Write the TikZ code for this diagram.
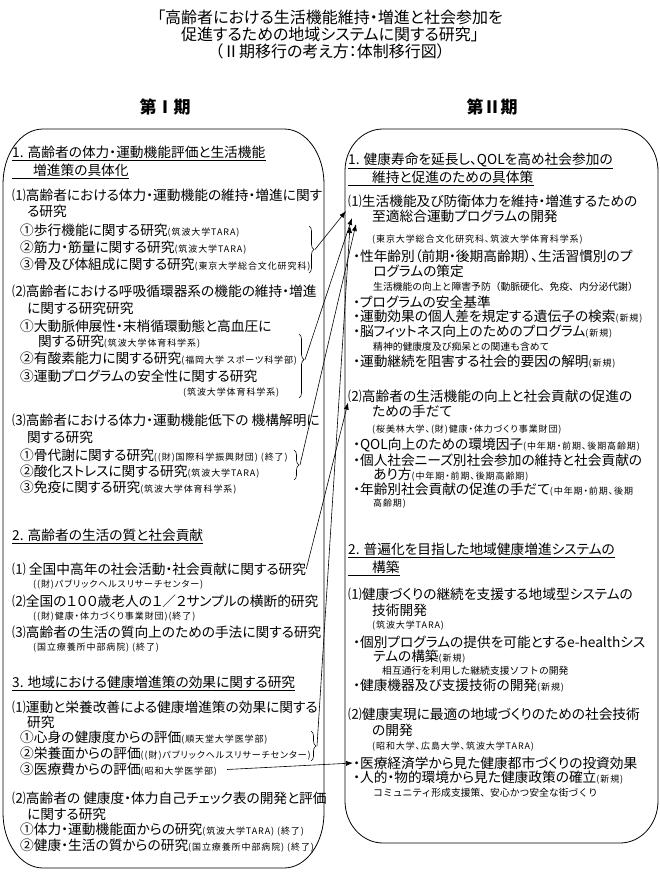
\documentclass[tikz,border=0pt]{standalone}
\usepackage{fontspec}
\setmainfont{Noto Sans CJK JP}[RawFeature=+palt]
\newfontfamily\affilfont{Noto Sans CJK JP}[RawFeature=+palt, LetterSpace=10]
\newfontfamily\subnotefont{Noto Sans CJK JP}
\usepackage{tikz}
\usetikzlibrary{arrows.meta, calc, decorations.pathreplacing}

\newcommand{\affil}[1]{{\affilfont\fontsize{9}{10}\selectfont #1}}
\newcommand{\subnote}[1]{{\subnotefont\fontsize{9.8}{11}\selectfont #1}}

\begin{document}
\begin{tikzpicture}[x=1pt, y=1pt,
    txt/.style={anchor=west, inner sep=0pt, font=\fontsize{13.7}{15}\selectfont},
    ttl/.style={inner sep=0pt, font=\fontsize{16}{18}\selectfont},
    per/.style={inner sep=0pt, font=\fontsize{17}{19}\selectfont\bfseries},
    frame/.style={draw=black, line width=0.8pt},
    uline/.style={draw=black, line width=0.6pt},
    brc/.style={draw=black, line width=0.6pt, decorate, decoration={brace, amplitude=5pt}},
    conn/.style={draw=black, line width=0.6pt, -{Latex[length=7pt, width=5pt]}}
]
    \fill[white] (0,0) rectangle (660,-882);

    % Title
    \node (title1) [ttl] at (330,-17) {「高齢者における生活機能維持・増進と社会参加を};
    \node (title2) [ttl] at (330,-34) {促進するための地域システムに関する研究」};
    \node (title3) [ttl] at (330,-51) {（Ⅱ期移行の考え方：体制移行図）};
    \node (per1) [per] at (165,-107) {第Ⅰ期};
    \node (per2) [per] at (492,-107) {第Ⅱ期};

    % Frames
    \draw[frame] (43,-129) -- (284,-129) arc[start angle=90, end angle=0, x radius=40, y radius=55]
        -- (324,-813) arc[start angle=0, end angle=-90, x radius=40, y radius=55]
        -- (43,-868) arc[start angle=270, end angle=180, x radius=40, y radius=55]
        -- (3,-184) arc[start angle=180, end angle=90, x radius=40, y radius=55] -- cycle;
    \draw[frame] (383,-129) -- (620,-129) arc[start angle=90, end angle=0, x radius=38, y radius=42]
        -- (658,-801) arc[start angle=0, end angle=-90, x radius=38, y radius=42]
        -- (383,-843) arc[start angle=270, end angle=180, x radius=38, y radius=42]
        -- (345,-171) arc[start angle=180, end angle=90, x radius=38, y radius=42] -- cycle;

    % Left column
    \node (l1a) [txt] at (12,-152) {1. 高齢者の体力・運動機能評価と生活機能};
    \node (l1b) [txt] at (33,-170) {増進策の具体化};
    \node (l11a) [txt] at (12,-195) {⑴高齢者における体力・運動機能の維持・増進に関す};
    \node (l11b) [txt] at (27,-211) {る研究};
    \node (l11c) [txt] at (20,-231) {①歩行機能に関する研究\affil{(筑波大学TARA)}};
    \node (l11d) [txt] at (20,-248) {②筋力・筋量に関する研究\affil{(筑波大学TARA)}};
    \node (l11e) [txt] at (20,-265) {③骨及び体組成に関する研究\affil{(東京大学総合文化研究科)}};
    \node (l12a) [txt] at (12,-291) {⑵高齢者における呼吸循環器系の機能の維持・増進};
    \node (l12b) [txt] at (27,-308) {に関する研究研究};
    \node (l12c) [txt] at (20,-326) {①大動脈伸展性・末梢循環動態と高血圧に};
    \node (l12d) [txt] at (38,-342) {関する研究\affil{(筑波大学体育科学系)}};
    \node (l12e) [txt] at (20,-359) {②有酸素能力に関する研究\affil{(福岡大学 スポーツ科学部)}};
    \node (l12f) [txt] at (20,-376) {③運動プログラムの安全性に関する研究};
    \node (l12g) [txt] at (183,-393) {\affil{(筑波大学体育科学系)}};
    \node (l13a) [txt] at (12,-420) {⑶高齢者における体力・運動機能低下の 機構解明に};
    \node (l13b) [txt] at (27,-437) {関する研究};
    \node (l13c) [txt] at (20,-456) {①骨代謝に関する研究\affil{((財)国際科学振興財団) (終了)}};
    \node (l13d) [txt] at (20,-472) {②酸化ストレスに関する研究\affil{(筑波大学TARA)}};
    \node (l13e) [txt] at (20,-488) {③免疫に関する研究\affil{(筑波大学体育科学系)}};
    \node (l2) [txt] at (12,-535) {2. 高齢者の生活の質と社会貢献};
    \node (l21a) [txt] at (12,-569) {⑴ 全国中高年の社会活動・社会貢献に関する研究};
    \node (l21b) [txt] at (33,-585) {\affil{((財)パブリックヘルスリサーチセンター)}};
    \node (l22a) [txt] at (12,-601) {⑵全国の１００歳老人の１／２サンプルの横断的研究};
    \node (l22b) [txt] at (33,-617) {\affil{((財)健康・体力づくり事業財団)(終了)}};
    \node (l23a) [txt] at (12,-632) {⑶高齢者の生活の質向上のための手法に関する研究};
    \node (l23b) [txt] at (33,-648) {\affil{(国立療養所中部病院) (終了)}};
    \node (l3) [txt] at (12,-682) {3. 地域における健康増進策の効果に関する研究};
    \node (l31a) [txt] at (12,-707) {⑴運動と栄養改善による健康増進策の効果に関する};
    \node (l31b) [txt] at (27,-722) {研究};
    \node (l31c) [txt] at (20,-738) {①心身の健康度からの評価\affil{(順天堂大学医学部)}};
    \node (l31d) [txt] at (20,-754) {②栄養面からの評価\affil{((財)パブリックヘルスリサーチセンター)}};
    \node (l31e) [txt] at (20,-770) {③医療費からの評価\affil{(昭和大学医学部)}};
    \node (l32a) [txt] at (12,-798) {⑵高齢者の 健康度・体力自己チェック表の開発と評価};
    \node (l32b) [txt] at (27,-814) {に関する研究};
    \node (l32c) [txt] at (20,-830) {①体力・運動機能面からの研究\affil{(筑波大学TARA) (終了)}};
    \node (l32d) [txt] at (20,-846) {②健康・生活の質からの研究\affil{(国立療養所中部病院) (終了)}};

    % Right column
    \node (r1a) [txt] at (348,-160) {1. 健康寿命を延長し、QOLを高め社会参加の};
    \node (r1b) [txt] at (372,-177) {維持と促進のための具体策};
    \node (r11a) [txt] at (348,-201) {⑴生活機能及び防衛体力を維持・増進するための};
    \node (r11b) [txt] at (372,-216) {至適総合運動プログラムの開発};
    \node (r11c) [txt] at (372,-240) {\affil{(東京大学総合文化研究科、筑波大学体育科学系)}};
    \node (r11d) [txt] at (353,-256) {・性年齢別（前期・後期高齢期）、生活習慣別のプ};
    \node (r11e) [txt] at (373,-271) {ログラムの策定};
    \node (r11f) [txt] at (373,-287) {\subnote{生活機能の向上と障害予防（動脈硬化、免疫、内分泌代謝）}};
    \node (r11g) [txt] at (353,-302) {・プログラムの安全基準};
    \node (r11h) [txt] at (353,-317) {・運動効果の個人差を規定する遺伝子の検索\affil{(新規)}};
    \node (r11i) [txt] at (353,-332) {・脳フィットネス向上のためのプログラム\affil{(新規)}};
    \node (r11j) [txt] at (373,-347) {\subnote{精神的健康度及び痴呆との関連も含めて}};
    \node (r11k) [txt] at (353,-362) {・運動継続を阻害する社会的要因の解明\affil{(新規)}};
    \node (r12a) [txt] at (348,-396) {⑵高齢者の生活機能の向上と社会貢献の促進の};
    \node (r12b) [txt] at (372,-411) {ための手だて};
    \node (r12c) [txt] at (372,-430) {\affil{(桜美林大学、(財)健康・体力づくり事業財団)}};
    \node (r12d) [txt] at (353,-445) {・QOL向上のための環境因子\affil{(中年期・前期、後期高齢期)}};
    \node (r12e) [txt] at (353,-460) {・個人社会ニーズ別社会参加の維持と社会貢献の};
    \node (r12f) [txt] at (373,-475) {あり方\affil{(中年期・前期、後期高齢期)}};
    \node (r12g) [txt] at (353,-490) {・年齢別社会貢献の促進の手だて\affil{(中年期・前期、後期}};
    \node (r12h) [txt] at (373,-504) {\affil{高齢期)}};
    \node (r2a) [txt] at (348,-549) {2. 普遍化を目指した地域健康増進システムの};
    \node (r2b) [txt] at (372,-567) {構築};
    \node (r21a) [txt] at (348,-594) {⑴健康づくりの継続を支援する地域型システムの};
    \node (r21b) [txt] at (372,-610) {技術開発};
    \node (r21c) [txt] at (372,-626) {\affil{(筑波大学TARA)}};
    \node (r21d) [txt] at (353,-642) {・個別プログラムの提供を可能とするe-healthシス};
    \node (r21e) [txt] at (373,-657) {テムの構築\affil{(新規)}};
    \node (r21f) [txt] at (382,-671) {\subnote{相互通行を利用した継続支援ソフトの開発}};
    \node (r21g) [txt] at (353,-686) {・健康機器及び支援技術の開発\affil{(新規)}};
    \node (r22a) [txt] at (348,-714) {⑵健康実現に最適の地域づくりのための社会技術};
    \node (r22b) [txt] at (372,-730) {の開発};
    \node (r22c) [txt] at (372,-747) {\affil{(昭和大学、広島大学、筑波大学TARA)}};
    \node (r22d) [txt] at (353,-763) {・医療経済学から見た健康都市づくりの投資効果};
    \node (r22e) [txt] at (353,-778) {・人的・物的環境から見た健康政策の確立\affil{(新規)}};
    \node (r22f) [txt] at (373,-793) {\subnote{コミュニティ形成支援策、安心かつ安全な街づくり}};

    % Underlines
    \draw[uline] ($(l1a.south west)+(0,-1.5)$) -- ($(l1a.south east)+(0,-1.5)$);
    \draw[uline] ($(l1b.south west -| l1a.west)+(0,-1.5)$) -- ($(l1b.south east)+(0,-1.5)$);
    \draw[uline] ($(l2.south west)+(0,-1.5)$) -- ($(l2.south east)+(0,-1.5)$);
    \draw[uline] ($(l3.south west)+(0,-1.5)$) -- ($(l3.south east)+(0,-1.5)$);
    \draw[uline] ($(r1a.south west)+(0,-1.5)$) -- ($(r1a.south east)+(0,-1.5)$);
    \draw[uline] ($(r1b.south west -| r1a.west)+(0,-1.5)$) -- ($(r1b.south east)+(0,-1.5)$);
    \draw[uline] ($(r2a.south west)+(0,-1.5)$) -- ($(r2a.south east)+(0,-1.5)$);
    \draw[uline] ($(r2b.south west -| r2a.west)+(0,-1.5)$) -- ($(r2b.south east)+(0,-1.5)$);

    % Braces
    \draw[brc] (309,-226) -- (309,-273);
    \coordinate (b1tip) at (315,-249.5);
    \draw[brc, decoration={aspect=0.4}] (299,-334) -- (299,-398);
    \coordinate (b2tip) at (305,-359.6);
    \draw[brc] (294,-450) -- (294,-480);
    \coordinate (b3tip) at (300,-465);
    \draw[brc] (311,-731) -- (311,-761);
    \coordinate (b4tip) at (317,-746);

    % Arrow ends
    \coordinate (e1) at ($(r11a.west)+(-2,-10)$);
    \coordinate (e2) at ($(r11b.west)+(-20,-2)$);
    \coordinate (e3) at ($(r11b.west)+(-16,-8)$);
    \coordinate (e4) at ($(r11b.west)+(-22,-10)$);

    % Connectors
    \draw[conn] (b1tip) -- (e1);
    \draw[conn] (b2tip) -- (e2);
    \draw[conn] (b3tip) -- (e3);
    \draw[conn] (b4tip) -- (e4);
    \draw[conn] (l21a.east) -- (r12a.south west);
    \draw[conn, shorten <=10pt] (l31e.east) -- (r22d.west);
\end{tikzpicture}
\end{document}
